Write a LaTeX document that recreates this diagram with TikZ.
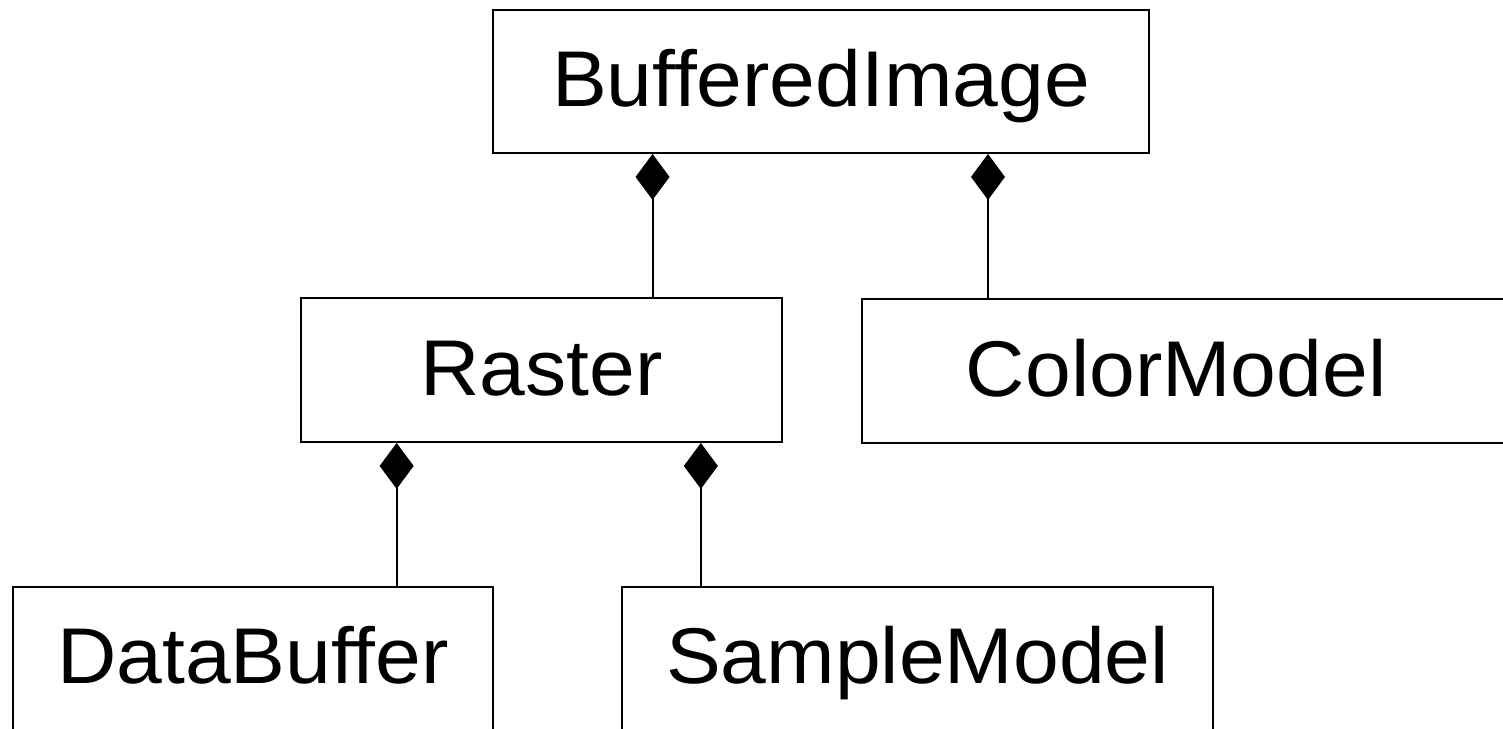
\documentclass[tikz,border=0pt]{standalone}
\usepackage{fontspec}
\setmainfont{Liberation Sans}[FakeStretch=1.04]
\usetikzlibrary{arrows.meta, positioning, calc}

\tikzset{
    classbox/.style={draw, rectangle, line width=1.1pt, inner xsep=0pt, inner ysep=0pt,
        text height=32.2pt, text depth=0.12cm, font=\fontsize{45pt}{54pt}\selectfont},
    owns/.style={line width=1.1pt, -{Diamond[length=0.92cm, width=0.68cm]}}
}

\begin{document}
\begin{tikzpicture}[x=0.02cm, y=-0.02cm]

\useasboundingbox (0,0) rectangle (1503,728);

% the classes
\node[classbox, minimum width=13.12cm, minimum height=2.86cm] (img) at (821,81.5) {BufferedImage};
\node[classbox, minimum width=9.62cm, minimum height=2.88cm] (raster) at (541.5,370) {Raster};
\node[classbox, anchor=north west, inner xsep=2.08cm, text width=12cm, align=left, minimum height=2.88cm] (color) at (861,298) {ColorModel};
\node[classbox, anchor=north, text depth=0.26cm, minimum width=9.6cm, minimum height=3cm] (databuf) at (253,586) {DataBuffer};
\node[classbox, anchor=north, text depth=0.26cm, minimum width=11.82cm, minimum height=3cm] (sample) at (917.5,586) {SampleModel};

% composition links
\coordinate (r1) at ($(raster.north west)!.73!(raster.north east)$);
\coordinate (c1) at ([xshift=2.54cm]color.north west);
\coordinate (d1) at ($(raster.south west)!.2!(raster.south east)$);
\coordinate (s1) at ($(raster.south west)!.83!(raster.south east)$);

\draw[owns] (r1) -- (r1 |- img.south);
\draw[owns] (c1) -- (c1 |- img.south);
\draw[owns] (d1 |- databuf.north) -- (d1);
\draw[owns] (s1 |- sample.north) -- (s1);

\end{tikzpicture}
\end{document}
